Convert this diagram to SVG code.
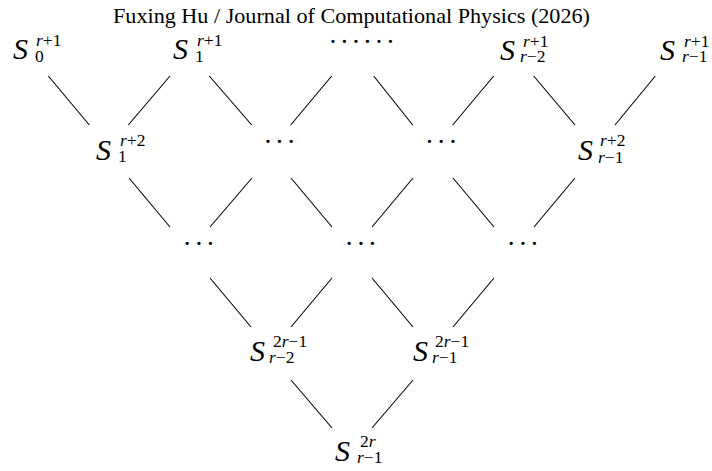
<svg xmlns="http://www.w3.org/2000/svg" width="712" height="471" viewBox="0 0 712 471">
<style>
text{font-family:"Liberation Serif","Times New Roman",serif;fill:#000}
.t{font-size:21px}
.S{font-size:30px;font-style:italic}
.s{font-size:17.5px;font-style:normal}
.i{font-style:italic}
.d{font-size:28px}
#edges line{stroke:#000;stroke-width:1.1}
</style>
<rect width="712" height="471" fill="#fff"/>
<text class="t" x="113" y="23" textLength="477" lengthAdjust="spacingAndGlyphs">Fuxing Hu / Journal of Computational Physics (2026)</text>
<g id="edges">
<line x1="48.3" y1="76" x2="89.3" y2="125"/>
<line x1="170" y1="76" x2="128.3" y2="125"/>
<line x1="209.3" y1="76" x2="251.7" y2="125"/>
<line x1="331.7" y1="76" x2="290.7" y2="125"/>
<line x1="373.7" y1="76" x2="412.7" y2="125"/>
<line x1="493.7" y1="76" x2="452.7" y2="125"/>
<line x1="533.7" y1="76" x2="575" y2="125"/>
<line x1="655.3" y1="76" x2="615" y2="125"/>
<line x1="129" y1="178" x2="170" y2="227"/>
<line x1="252" y1="178" x2="210" y2="227"/>
<line x1="291" y1="178" x2="332" y2="227"/>
<line x1="413" y1="178" x2="372" y2="227"/>
<line x1="453" y1="178" x2="494" y2="227"/>
<line x1="575" y1="178" x2="534" y2="227"/>
<line x1="210" y1="278" x2="251" y2="327"/>
<line x1="332" y1="278" x2="291" y2="327"/>
<line x1="372" y1="278" x2="413" y2="327"/>
<line x1="494" y1="278" x2="453" y2="327"/>
<line x1="291" y1="380" x2="332" y2="428"/>
<line x1="413" y1="380" x2="372" y2="428"/>
</g>
<g id="n_r1_0"><text class="S" x="13" y="59">S<tspan class="s" x="36" y="46"><tspan class="i">r</tspan>+1</tspan><tspan class="s" x="35" y="62">0</tspan></text></g>
<g id="n_r1_1"><text class="S" x="173" y="59">S<tspan class="s" x="197" y="46"><tspan class="i">r</tspan>+1</tspan><tspan class="s" x="195" y="62">1</tspan></text></g>
<g id="n_r1_dots"><text class="d" x="328.2 339.7 351.2 362.7 374.2 385.7" y="51">······</text></g>
<g id="n_r1_r2"><text class="S" x="500" y="60">S<tspan class="s" x="523" y="47"><tspan class="i">r</tspan>+1</tspan><tspan class="s" x="520" y="62"><tspan class="i">r</tspan>−2</tspan></text></g>
<g id="n_r1_r1"><text class="S" x="660" y="60">S<tspan class="s" x="684" y="47"><tspan class="i">r</tspan>+1</tspan><tspan class="s" x="682" y="62"><tspan class="i">r</tspan>−1</tspan></text></g>
<g id="n_r2_1"><text class="S" x="96" y="160">S<tspan class="s" x="120" y="146"><tspan class="i">r</tspan>+2</tspan><tspan class="s" x="118" y="162">1</tspan></text></g>
<g id="n_r2_dots1"><text class="d" x="263.2 274.8 286.5" y="151">···</text></g>
<g id="n_r2_dots2"><text class="d" x="424.8 436.5 448.2" y="151">···</text></g>
<g id="n_r2_r1"><text class="S" x="578" y="160">S<tspan class="s" x="600" y="146"><tspan class="i">r</tspan>+2</tspan><tspan class="s" x="598" y="163"><tspan class="i">r</tspan>−1</tspan></text></g>
<g id="n_r3_dots1"><text class="d" x="182.5 194.2 205.8" y="252.7">···</text></g>
<g id="n_r3_dots2"><text class="d" x="344.5 356.2 367.8" y="252.7">···</text></g>
<g id="n_r3_dots3"><text class="d" x="506.5 518.2 529.8" y="252.7">···</text></g>
<g id="n_r4_r2"><text class="S" x="250" y="361">S<tspan class="s" x="273" y="347">2<tspan class="i">r</tspan>−1</tspan><tspan class="s" x="269" y="363"><tspan class="i">r</tspan>−2</tspan></text></g>
<g id="n_r4_r1"><text class="S" x="413" y="361">S<tspan class="s" x="435" y="347">2<tspan class="i">r</tspan>−1</tspan><tspan class="s" x="432" y="363"><tspan class="i">r</tspan>−1</tspan></text></g>
<g id="n_r5"><text class="S" x="335" y="461">S<tspan class="s" x="360" y="447">2<tspan class="i">r</tspan></tspan><tspan class="s" x="357" y="463"><tspan class="i">r</tspan>−1</tspan></text></g>
</svg>
